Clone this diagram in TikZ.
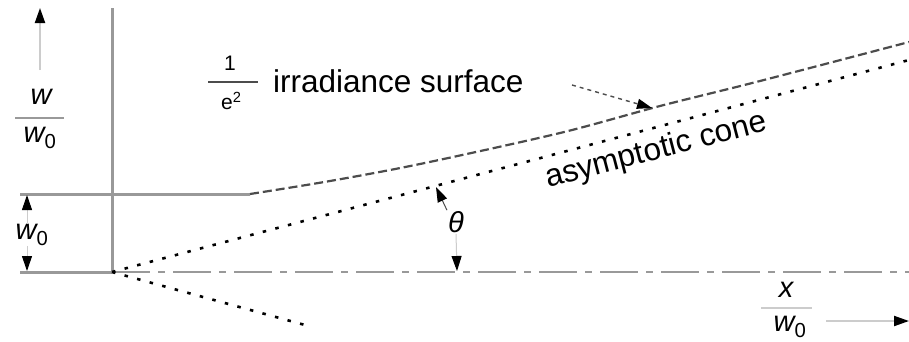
\documentclass[tikz,border=0pt]{standalone}
\usepackage{fontspec}
\setmainfont{Liberation Sans}
\usetikzlibrary{arrows.meta}
\definecolor{lg}{gray}{0.6}
\definecolor{dg}{gray}{0.3}
\definecolor{vlg}{gray}{0.8}
\tikzset{
  axisline/.style={draw=lg, line width=3pt},
  beamline/.style={draw=dg, line width=2.2pt, dash pattern=on 9pt off 4pt},
  coneline/.style={draw=black, line width=2.6pt, dash pattern=on 3.5pt off 9.5pt},
  dashdotline/.style={draw=lg, line width=2.6pt, dash pattern=on 38pt off 8pt on 7pt off 8pt},
  tipend/.style={-{Triangle[length=15pt,width=10pt,black]}},
  shaft/.style={draw=vlg, line width=2pt},
  thinlead/.style={draw=dg, line width=1.4pt, dash pattern=on 4pt off 4pt},
  lbl/.style={inner sep=0pt, font=\fontsize{31.5}{36}\selectfont},
  fracnum/.style={inner sep=0pt, font=\fontsize{29}{32}\selectfont\itshape},
  smallnum/.style={inner sep=0pt, font=\fontsize{21}{24}\selectfont},
  barline/.style={draw=lg, line width=2pt},
}
\begin{document}
\begin{tikzpicture}[x=1pt,y=-1pt]
\useasboundingbox[fill=white] (0,0) rectangle (909,341);
% axes
\coordinate (vtop) at (112,8);
\coordinate (O) at (112,272);
\coordinate (axL) at (20,272);
\coordinate (axR) at (909,272);
\coordinate (wL) at (20,194);
\coordinate (wR) at (250,194);
\coordinate (coneEnd) at (909,60);
\coordinate (coneLow) at (305,325);
\draw[axisline] (vtop) -- (O);
\draw[axisline] (axL) -- (O);
\draw[dashdotline] (O) -- (axR);
\draw[axisline] (wL) -- (wR);
% beam
\draw[beamline] plot[smooth, tension=0.5] coordinates {(250,194) (330,181) (420,164) (560,133) (660,106) (760,81) (909,42)};
% cone
\draw[coneline] (O) -- (coneEnd);
\draw[coneline] (O) -- (coneLow);
% irradiance label
\node[smallnum] (one) at (230,63) {1};
\coordinate (eb1) at (208,82);
\coordinate (eb2) at (258,82);
\draw[draw=dg, line width=1.8pt] (eb1) -- (eb2);
\node[smallnum, anchor=west] (e2) at (221,101) {e\textsuperscript{2}};
\node[lbl, anchor=base west] (irr) at (273,92) {irradiance surface};
\coordinate (ls) at (572,85);
\coordinate (lt) at (652,108);
\draw[thinlead, tipend] (ls) -- (lt);
% asymptotic cone label
\node[lbl, rotate=14.7, anchor=base west] (asym) at (548,188) {asymptotic cone};
% theta
\node[fracnum, inner sep=1pt] (th) at (456,222) {θ};
\coordinate (thTop) at (436,187);
\coordinate (thBot) at (457,271);
\draw[draw=dg, line width=1pt, tipend] (th.north west) -- (thTop);
\draw[draw=vlg, line width=1pt, tipend] (th.south) -- (thBot);
% left top arrow and fraction
\coordinate (ya) at (40,70);
\coordinate (yb) at (40,8);
\draw[shaft, tipend] (ya) -- (yb);
\node[fracnum] (wn) at (41,97) {w};
\coordinate (fb1) at (15,118);
\coordinate (fb2) at (64,118);
\draw[barline] (fb1) -- (fb2);
\node[fracnum] (wd) at (40,138) {w\textsubscript{\upshape 0}};
% w0 dimension
\node[fracnum] (w0) at (32,235) {w\textsubscript{\upshape 0}};
\coordinate (d1) at (27,195);
\coordinate (d2) at (27,271);
\draw[draw=vlg, line width=1pt, tipend] (w0.north -| d1) -- (d1);
\draw[draw=vlg, line width=1pt, tipend] (w0.south -| d2) -- (d2);
% x / w0
\node[fracnum] (xn) at (786,290) {x};
\coordinate (xb1) at (761,308);
\coordinate (xb2) at (812,308);
\draw[draw=vlg, line width=2pt] (xb1) -- (xb2);
\node[fracnum] (xd) at (790,327) {w\textsubscript{\upshape 0}};
\coordinate (xa) at (826,321);
\coordinate (xe) at (909,321);
\draw[shaft, tipend] (xa) -- (xe);
\end{tikzpicture}
\end{document}
